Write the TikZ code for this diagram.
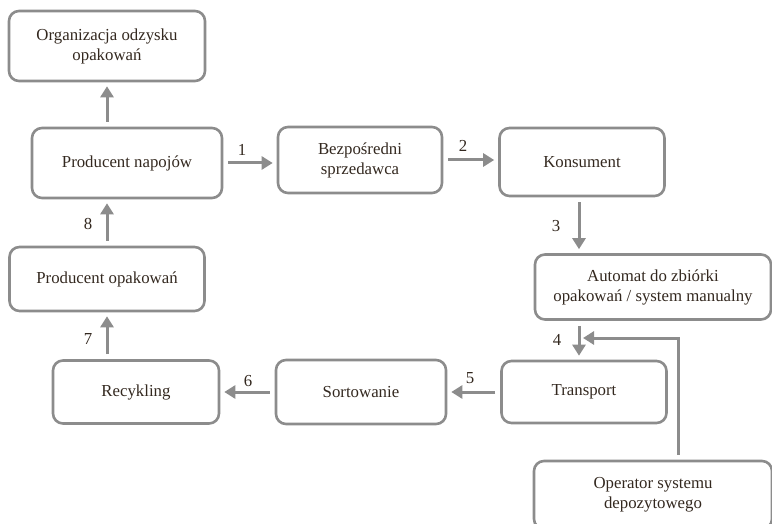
\documentclass[tikz,border=0pt]{standalone}
\usepackage{fontspec}
\setmainfont{Liberation Serif}
\newfontfamily\diagfont{Liberation Serif}
\usetikzlibrary{arrows.meta}
\definecolor{boxgray}{HTML}{8C8C8C}
\definecolor{txt}{HTML}{33281F}
\tikzset{
  box/.style={draw=boxgray, line width=2.6pt, rounded corners=10pt, align=center,
    text=txt, font=\diagfont\fontsize{16.8}{20}\selectfont, inner sep=0pt},
  arr/.style={draw=boxgray, line width=3pt,
    -{Triangle[length=11pt,width=13pt]}, shorten <=5pt, shorten >=4pt},
  lbl/.style={text=txt, font=\diagfont\fontsize{16.8}{20}\selectfont, inner sep=0pt}
}
\begin{document}
\begin{tikzpicture}[x=1pt,y=-1pt]
\useasboundingbox (0,0) rectangle (772,524);
\node[box, minimum width=196pt, minimum height=70pt] (org) at (107,46) {Organizacja odzysku\\opakowań};
\node[box, minimum width=190pt, minimum height=70pt] (pn) at (127,163) {Producent napojów};
\node[box, minimum width=164pt, minimum height=66pt] (bs) at (360,160) {Bezpośredni\\sprzedawca};
\node[box, minimum width=165pt, minimum height=68pt] (ko) at (582,162) {Konsument};
\node[box, minimum width=236pt, minimum height=65pt] (au) at (653,287) {Automat do zbiórki\\opakowań / system manualny};
\node[box, minimum width=165pt, minimum height=62pt] (tr) at (584,392) {Transport};
\node[box, minimum width=170pt, minimum height=64pt] (so) at (361,392) {Sortowanie};
\node[box, minimum width=166pt, minimum height=63pt] (re) at (136,392) {Recykling};
\node[box, minimum width=195pt, minimum height=64pt] (po) at (107,279) {Producent opakowań};
\node[box, minimum width=238pt, minimum height=68pt] (op) at (653,495) {Operator systemu\\depozytowego};
\coordinate (cx) at (579,0);
\coordinate (ox) at (678,0);
\coordinate (j) at (579,338);
% arrows
\draw[arr] (org.south |- pn.north) -- (org.south);
\draw[arr] (pn.east) -- (bs.west |- pn.east);
\draw[arr] (bs.east) -- (ko.west |- bs.east);
\draw[arr] (ko.south -| cx) -- (au.north -| cx);
\draw[arr] (au.south -| cx) -- (tr.north -| cx);
\draw[arr] (op.north -| ox) |- (j);
\draw[arr] (tr.west) -- (so.east);
\draw[arr] (so.west) -- (re.east |- so.west);
\draw[arr] (po.south |- re.north) -- (po.south);
\draw[arr] (po.north) -- (po.north |- pn.south);
% labels
\node[lbl] (l1) at (242,150) {1};
\node[lbl] (l2) at (463,146) {2};
\node[lbl] (l3) at (556,226) {3};
\node[lbl] (l4) at (557,340) {4};
\node[lbl] (l5) at (470,378) {5};
\node[lbl] (l6) at (248,381) {6};
\node[lbl] (l7) at (88,339) {7};
\node[lbl] (l8) at (88,224) {8};
\end{tikzpicture}
\end{document}
